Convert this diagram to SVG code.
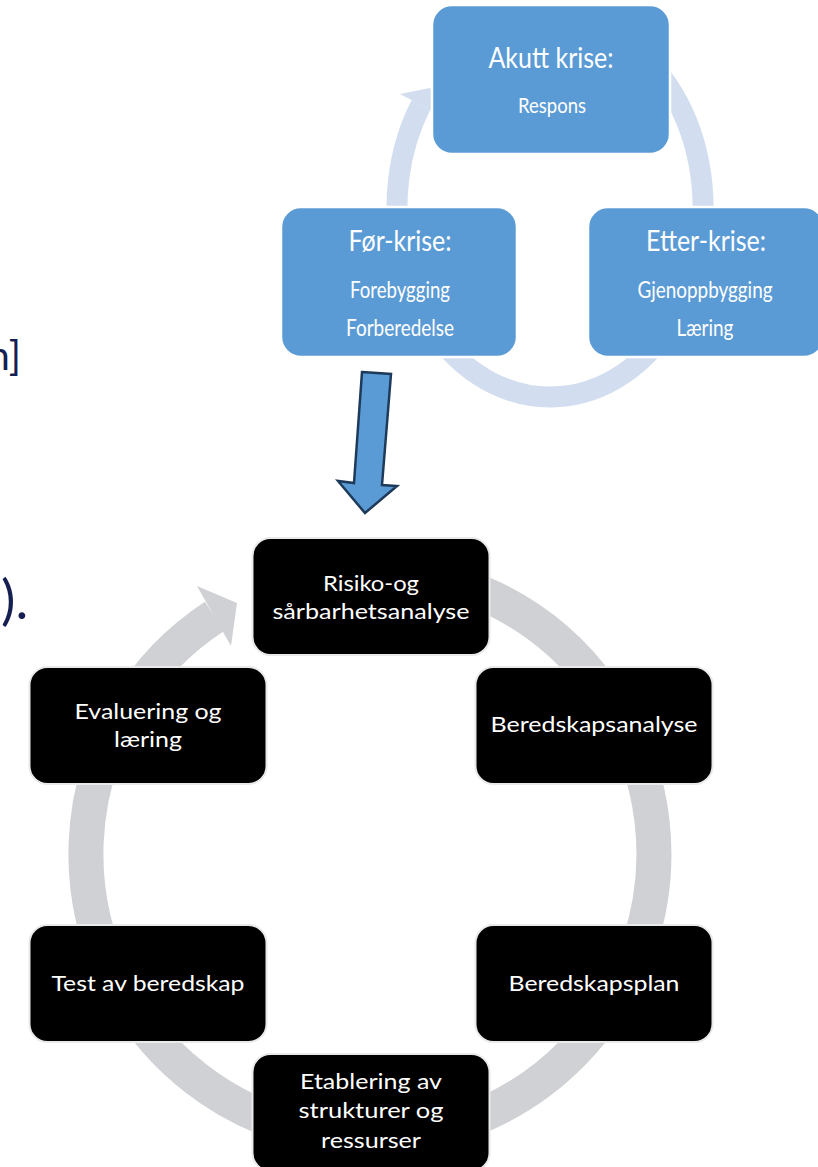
<svg xmlns="http://www.w3.org/2000/svg" width="818" height="1167" viewBox="0 0 818 1167">
<style>
.bx{fill:#5b9bd5;stroke:#ffffff;stroke-width:2.5}
.bk{fill:#000000;stroke:#e9e9e9;stroke-width:2}
.t{font-family:Lato,"Open Sans",sans-serif;fill:#ffffff;text-anchor:middle}
.h{font-size:29px}
.s{font-size:23px}
.b{font-size:22px}
.slide{font-family:Lato,"Open Sans",sans-serif;fill:#161f52}
</style>
<rect x="0" y="0" width="818" height="1167" fill="#ffffff"/>
<g id="slide-text">
<text class="slide" x="21" y="370" font-size="40" text-anchor="end">n]</text>
<text class="slide" x="1" y="619" font-size="54">).</text>
</g>
<g id="connectors">
<path d="M421,104.9 A153,190 0 1 0 550,17" fill="none" stroke="#d2deef" stroke-width="21"/>
<polygon points="400,94 430,88 442,116" fill="#d2deef"/>
<path d="M214.5,616.3 A284,284 0 1 0 370,570" fill="none" stroke="#d0d1d5" stroke-width="35"/>
<polygon points="197,586 237,603 231,646" fill="#d0d1d5"/>
<polygon points="362,372 391,374 382,485 397,486 365,513 338,481 354,483" fill="#5b9bd5" stroke="#1e3a5a" stroke-width="2.5" stroke-linejoin="miter"/>
</g>
<g id="node-akutt">
<rect class="bx" x="432" y="5" width="238" height="149" rx="20"/>
<text class="t h" x="551" y="68" textLength="125" lengthAdjust="spacingAndGlyphs">Akutt krise:</text>
<text class="t b" x="552" y="113" textLength="68" lengthAdjust="spacingAndGlyphs">Respons</text>
</g>
<g id="node-for">
<rect class="bx" x="281" y="207" width="236" height="150" rx="20"/>
<text class="t h" x="400" y="251" textLength="103" lengthAdjust="spacingAndGlyphs">Før-krise:</text>
<text class="t s" x="400" y="298" textLength="100" lengthAdjust="spacingAndGlyphs">Forebygging</text>
<text class="t s" x="400" y="336" textLength="108" lengthAdjust="spacingAndGlyphs">Forberedelse</text>
</g>
<g id="node-etter">
<rect class="bx" x="588" y="207" width="236" height="150" rx="20"/>
<text class="t h" x="706" y="251" textLength="120" lengthAdjust="spacingAndGlyphs">Etter-krise:</text>
<text class="t s" x="705" y="298" textLength="135" lengthAdjust="spacingAndGlyphs">Gjenoppbygging</text>
<text class="t s" x="705" y="336" textLength="57" lengthAdjust="spacingAndGlyphs">Læring</text>
</g>
<g id="node-risiko">
<rect class="bk" x="252.5" y="538" width="237" height="117" rx="18"/>
<text class="t b" x="371" y="591" textLength="96" lengthAdjust="spacingAndGlyphs">Risiko-og</text>
<text class="t b" x="371" y="619" textLength="197" lengthAdjust="spacingAndGlyphs">sårbarhetsanalyse</text>
</g>
<g id="node-beredskapsanalyse">
<rect class="bk" x="475.5" y="667" width="237" height="117" rx="18"/>
<text class="t b" x="594" y="732" textLength="207" lengthAdjust="spacingAndGlyphs">Beredskapsanalyse</text>
</g>
<g id="node-beredskapsplan">
<rect class="bk" x="475.5" y="925" width="237" height="117" rx="18"/>
<text class="t b" x="594" y="991" textLength="171" lengthAdjust="spacingAndGlyphs">Beredskapsplan</text>
</g>
<g id="node-etablering">
<rect class="bk" x="252.5" y="1054" width="237" height="117" rx="18"/>
<text class="t b" x="371" y="1089" textLength="142" lengthAdjust="spacingAndGlyphs">Etablering av</text>
<text class="t b" x="371" y="1118" textLength="145" lengthAdjust="spacingAndGlyphs">strukturer og</text>
<text class="t b" x="371" y="1148" textLength="100" lengthAdjust="spacingAndGlyphs">ressurser</text>
</g>
<g id="node-test">
<rect class="bk" x="29.5" y="925" width="237" height="117" rx="18"/>
<text class="t b" x="148" y="991" textLength="193" lengthAdjust="spacingAndGlyphs">Test av beredskap</text>
</g>
<g id="node-evaluering">
<rect class="bk" x="29.5" y="667" width="237" height="117" rx="18"/>
<text class="t b" x="148" y="719" textLength="147" lengthAdjust="spacingAndGlyphs">Evaluering og</text>
<text class="t b" x="148" y="747" textLength="68" lengthAdjust="spacingAndGlyphs">læring</text>
</g>
</svg>
